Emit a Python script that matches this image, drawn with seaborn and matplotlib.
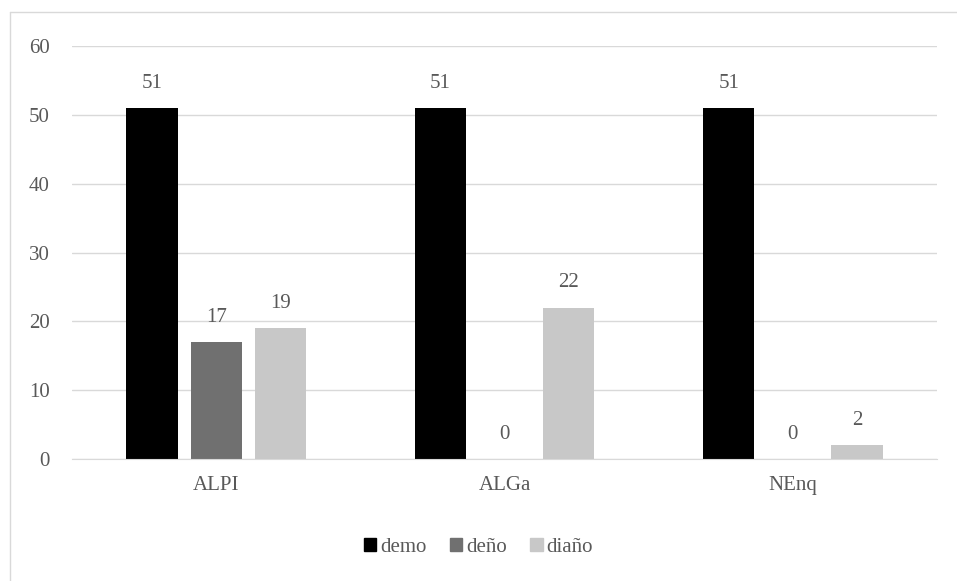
import matplotlib
matplotlib.use("Agg")
import matplotlib.pyplot as plt
from matplotlib.lines import Line2D
import pandas as pd
import seaborn as sns

categories = ["ALPI", "ALGa", "NEnq"]
series = ["demo", "deño", "diaño"]
demo = [51, 51, 51]
deno = [17, 0, 0]
diano = [19, 22, 2]
colors = ["#000000", "#707070", "#c8c8c8"]

rows = []
for name, vals in zip(series, [demo, deno, diano]):
    for cat, v in zip(categories, vals):
        rows.append({"cat": cat, "serie": name, "valor": v})
df = pd.DataFrame(rows)

sns.set_style("white")
plt.rcParams["font.family"] = ["Liberation Serif", "DejaVu Serif"]
TXT = "#595959"
FS = 15

fig = plt.figure(figsize=(9.57, 5.81), dpi=100)
ax = fig.add_axes([72 / 957, 1 - 459 / 581, 865 / 957, 413 / 581])

sns.barplot(data=df, x="cat", y="valor", hue="serie", order=categories,
            hue_order=series, palette=colors, width=0.667, gap=0.2,
            saturation=1, ax=ax, legend=False, linewidth=0)

for cont in ax.containers:
    ax.bar_label(cont, padding=11, fontsize=FS, color=TXT)

ax.set_ylim(0, 60)
ax.set_yticks(range(0, 61, 10))
ax.yaxis.grid(True, color="#d9d9d9", linewidth=1)
ax.set_axisbelow(True)
for s in ["top", "right", "left"]:
    ax.spines[s].set_visible(False)
ax.spines["bottom"].set_color("#d9d9d9")
ax.tick_params(axis="both", length=0, labelsize=FS, labelcolor=TXT)
ax.tick_params(axis="y", pad=16)
ax.tick_params(axis="x", pad=12)
ax.set_xlabel("")
ax.set_ylabel("")

handles = [plt.Rectangle((0, 0), 1, 1, color=c) for c in colors]
fig.legend(handles, series, loc="center", bbox_to_anchor=(0.5, 1 - 547 / 581),
           ncol=3, frameon=False, fontsize=FS, labelcolor=TXT,
           handlelength=0.6, handleheight=0.6, handletextpad=0.2,
           columnspacing=1.1)

# chart frame edges
fig.add_artist(Line2D([10 / 957, 10 / 957], [0, 1 - 12 / 581],
                      transform=fig.transFigure, color="#d9d9d9", lw=1))
fig.add_artist(Line2D([10 / 957, 1], [1 - 12 / 581, 1 - 12 / 581],
                      transform=fig.transFigure, color="#d9d9d9", lw=1))

fig.savefig("out.png", dpi=100)
